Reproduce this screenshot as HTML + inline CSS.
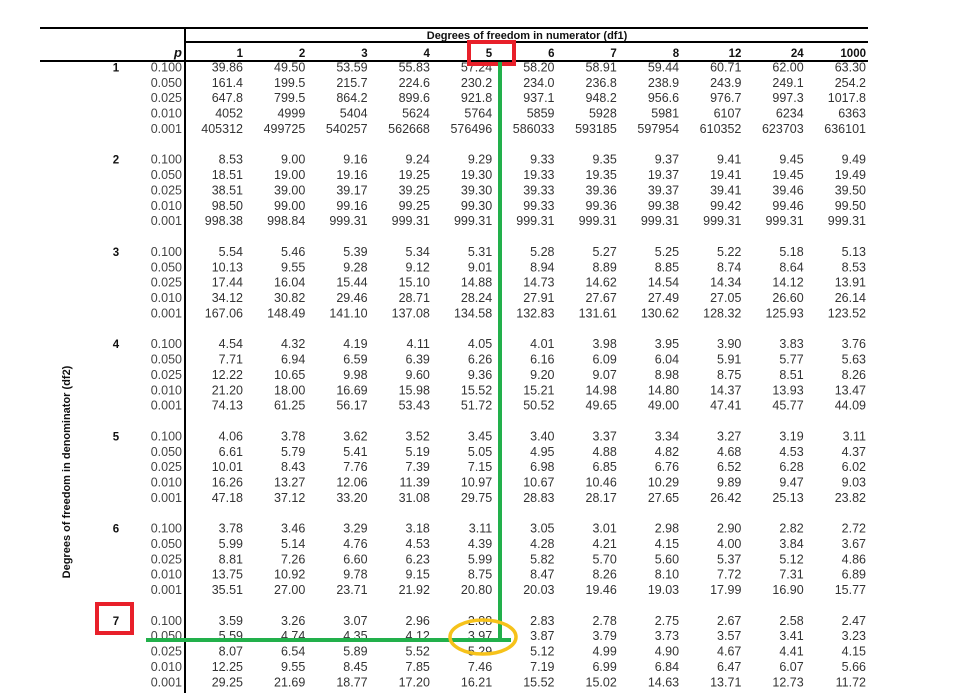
<!DOCTYPE html>
<html><head><meta charset="utf-8"><style>
html,body{margin:0;padding:0;background:#fff;width:963px;height:693px;overflow:hidden}
svg{display:block}
text{font-family:"Liberation Sans",Arial,sans-serif}
</style></head><body>
<svg id="tbl" width="963" height="693" xmlns="http://www.w3.org/2000/svg">
<line x1="40" y1="28" x2="868" y2="28" stroke="#000" stroke-width="2"/>
<line x1="185" y1="42" x2="868" y2="42" stroke="#000" stroke-width="2"/>
<line x1="40" y1="61" x2="868" y2="61" stroke="#000" stroke-width="2"/>
<line x1="185" y1="28" x2="185" y2="693" stroke="#000" stroke-width="2"/>
<text x="527" y="39" font-size="11" font-weight="bold" text-anchor="middle" fill="#111">Degrees of freedom in numerator (df1)</text>
<text x="182" y="57" font-size="13" font-weight="bold" font-style="italic" text-anchor="end" fill="#111">p</text>
<text transform="translate(70,472) rotate(-90)" font-size="11" font-weight="bold" text-anchor="middle" fill="#111">Degrees of freedom in denominator (df2)</text>
<g id="cells"></g>
<rect x="469" y="42" width="45" height="22" fill="none" stroke="#e8202a" stroke-width="4"/>
<rect x="97" y="604" width="35" height="29" fill="none" stroke="#e8202a" stroke-width="4"/>
<line x1="500" y1="62" x2="500" y2="641" stroke="#22b04b" stroke-width="4"/>
<line x1="146" y1="640" x2="511" y2="640" stroke="#22b04b" stroke-width="4"/>
<ellipse cx="483" cy="637" rx="33" ry="17" fill="none" stroke="#f6c21a" stroke-width="3.5"/>
</svg>
<script>
const df1 = ["1","2","3","4","5","6","7","8","12","24","1000"];
const df2 = ["1","2","3","4","5","6","7"];
const pvals = ["0.100","0.050","0.025","0.010","0.001"];
const g1 = [["39.86","49.50","53.59","55.83","57.24","58.20","58.91","59.44","60.71","62.00","63.30"],["161.4","199.5","215.7","224.6","230.2","234.0","236.8","238.9","243.9","249.1","254.2"],["647.8","799.5","864.2","899.6","921.8","937.1","948.2","956.6","976.7","997.3","1017.8"],["4052","4999","5404","5624","5764","5859","5928","5981","6107","6234","6363"],["405312","499725","540257","562668","576496","586033","593185","597954","610352","623703","636101"]];
const g2 = [["8.53","9.00","9.16","9.24","9.29","9.33","9.35","9.37","9.41","9.45","9.49"],["18.51","19.00","19.16","19.25","19.30","19.33","19.35","19.37","19.41","19.45","19.49"],["38.51","39.00","39.17","39.25","39.30","39.33","39.36","39.37","39.41","39.46","39.50"],["98.50","99.00","99.16","99.25","99.30","99.33","99.36","99.38","99.42","99.46","99.50"],["998.38","998.84","999.31","999.31","999.31","999.31","999.31","999.31","999.31","999.31","999.31"]];
const g3 = [["5.54","5.46","5.39","5.34","5.31","5.28","5.27","5.25","5.22","5.18","5.13"],["10.13","9.55","9.28","9.12","9.01","8.94","8.89","8.85","8.74","8.64","8.53"],["17.44","16.04","15.44","15.10","14.88","14.73","14.62","14.54","14.34","14.12","13.91"],["34.12","30.82","29.46","28.71","28.24","27.91","27.67","27.49","27.05","26.60","26.14"],["167.06","148.49","141.10","137.08","134.58","132.83","131.61","130.62","128.32","125.93","123.52"]];
const g4 = [["4.54","4.32","4.19","4.11","4.05","4.01","3.98","3.95","3.90","3.83","3.76"],["7.71","6.94","6.59","6.39","6.26","6.16","6.09","6.04","5.91","5.77","5.63"],["12.22","10.65","9.98","9.60","9.36","9.20","9.07","8.98","8.75","8.51","8.26"],["21.20","18.00","16.69","15.98","15.52","15.21","14.98","14.80","14.37","13.93","13.47"],["74.13","61.25","56.17","53.43","51.72","50.52","49.65","49.00","47.41","45.77","44.09"]];
const g5 = [["4.06","3.78","3.62","3.52","3.45","3.40","3.37","3.34","3.27","3.19","3.11"],["6.61","5.79","5.41","5.19","5.05","4.95","4.88","4.82","4.68","4.53","4.37"],["10.01","8.43","7.76","7.39","7.15","6.98","6.85","6.76","6.52","6.28","6.02"],["16.26","13.27","12.06","11.39","10.97","10.67","10.46","10.29","9.89","9.47","9.03"],["47.18","37.12","33.20","31.08","29.75","28.83","28.17","27.65","26.42","25.13","23.82"]];
const g6 = [["3.78","3.46","3.29","3.18","3.11","3.05","3.01","2.98","2.90","2.82","2.72"],["5.99","5.14","4.76","4.53","4.39","4.28","4.21","4.15","4.00","3.84","3.67"],["8.81","7.26","6.60","6.23","5.99","5.82","5.70","5.60","5.37","5.12","4.86"],["13.75","10.92","9.78","9.15","8.75","8.47","8.26","8.10","7.72","7.31","6.89"],["35.51","27.00","23.71","21.92","20.80","20.03","19.46","19.03","17.99","16.90","15.77"]];
const g7 = [["3.59","3.26","3.07","2.96","2.88","2.83","2.78","2.75","2.67","2.58","2.47"],["5.59","4.74","4.35","4.12","3.97","3.87","3.79","3.73","3.57","3.41","3.23"],["8.07","6.54","5.89","5.52","5.29","5.12","4.99","4.90","4.67","4.41","4.15"],["12.25","9.55","8.45","7.85","7.46","7.19","6.99","6.84","6.47","6.07","5.66"],["29.25","21.69","18.77","17.20","16.21","15.52","15.02","14.63","13.71","12.73","11.72"]];
const groups = [g1,g2,g3,g4,g5,g6,g7];

const NS="http://www.w3.org/2000/svg";
const cells=document.getElementById('cells');
function colX(i){return 243+i*62.3;}
function rowY(gi,ri){return 71.5+(gi*6+ri)*15.37;}
function txt(x,y,s,opt){
  const t=document.createElementNS(NS,'text');
  t.setAttribute('x',x);t.setAttribute('y',y);
  t.setAttribute('font-size',opt.size||12.5);
  t.setAttribute('text-anchor',opt.anchor||'end');
  t.setAttribute('fill',opt.fill||'#333');
  if(opt.bold)t.setAttribute('font-weight','bold');
  t.textContent=s;cells.appendChild(t);return t;
}
df1.forEach((h,i)=>{
  const t=txt(colX(i),57,h,{bold:true,fill:'#111',size:11.5});
  
  
});
groups.forEach((g,gi)=>{
  const l=txt(116,rowY(gi,0),df2[gi],{bold:true,fill:'#111',anchor:'middle',size:11.5});
  
  
  pvals.forEach((p,ri)=>{
    const pt=txt(182,rowY(gi,ri),p,{fill:'#444'});
    
    
    g[ri].forEach((v,ci)=>{
      const c=txt(colX(ci),rowY(gi,ri),v,{});
      
      
    });
  });
});
</script>
</body></html>
